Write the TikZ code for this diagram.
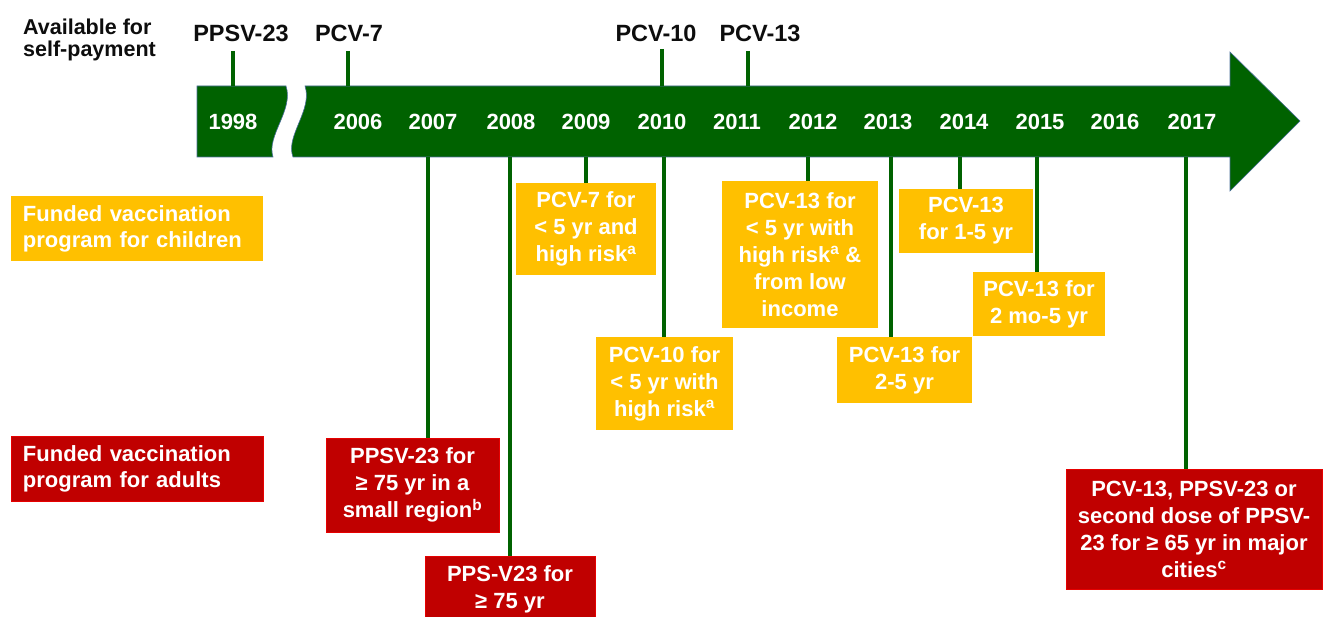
\documentclass[tikz,border=0pt]{standalone}
\usepackage{fontspec}
\setmainfont{Liberation Sans}
\definecolor{barg}{HTML}{006200}
\definecolor{yel}{HTML}{FFC000}
\definecolor{redc}{HTML}{C00000}
\definecolor{edgeb}{HTML}{4A6E9A}
\tikzset{
  conn/.style={draw=barg, line width=3.5pt},
  ybox/.style={fill=yel, text=white, font=\bfseries\fontsize{22}{27}\selectfont, align=center, inner sep=0pt},
  rbox/.style={fill=redc, draw=red!60!redc, line width=0.6pt, text=white, font=\bfseries\fontsize{22}{27}\selectfont, align=center, inner sep=0pt},
  catlab/.style={text=white, font=\bfseries\fontsize{22}{26}\selectfont, align=left, minimum width=252pt, minimum height=65pt, text width=228pt, inner xsep=12pt, inner ysep=0pt},
  yearlab/.style={text=white, font=\bfseries\fontsize{22}{26}\selectfont},
  toplab/.style={text=black!95, font=\bfseries\fontsize{23.5}{28}\selectfont},
}
\begin{document}
\begin{tikzpicture}[x=1pt,y=-1pt]
\useasboundingbox (0,0) rectangle (1328,617);
% timeline bar
\filldraw[fill=barg, draw=edgeb, line width=0.6pt] (197,86) -- (286,86) .. controls (294,110) and (266,136) .. (273,157) -- (197,157) -- cycle;
\filldraw[fill=barg, draw=edgeb, line width=0.6pt] (305,86) -- (1230,86) -- (1230,52) -- (1300,121) -- (1230,191) -- (1230,157) -- (293,157) .. controls (285,136) and (313,110) .. (305,86) -- cycle;
% years
\node[yearlab] (y1998) at (233,122) {1998};
\node[yearlab] (y2006) at (358,122) {2006};
\node[yearlab] (y2007) at (433,122) {2007};
\node[yearlab] (y2008) at (511,122) {2008};
\node[yearlab] (y2009) at (586,122) {2009};
\node[yearlab] (y2010) at (662,122) {2010};
\node[yearlab] (y2011) at (737,122) {2011};
\node[yearlab] (y2012) at (813,122) {2012};
\node[yearlab] (y2013) at (888,122) {2013};
\node[yearlab] (y2014) at (964,122) {2014};
\node[yearlab] (y2015) at (1040,122) {2015};
\node[yearlab] (y2016) at (1115,122) {2016};
\node[yearlab] (y2017) at (1192,122) {2017};
% top labels
\node[text=black!95, font=\bfseries\fontsize{21.5}{22}\selectfont, align=left, anchor=west, inner sep=0pt] (avail) at (23,40) {Available for\\self-payment};
\node[toplab] (tPPSV) at (241,33) {PPSV-23};
\node[toplab] (tPCV7) at (349,33) {PCV-7};
\node[toplab] (tPCV10) at (656,33) {PCV-10};
\node[toplab] (tPCV13) at (760,33) {PCV-13};
\coordinate (u1998) at (233,86);
\coordinate (u2006) at (348,86);
\coordinate (u2010) at (662,86);
\coordinate (u2011) at (748,86);
\draw[conn] (u1998 |- 0,51) -- (u1998);
\draw[conn] (u2006 |- 0,51) -- (u2006);
\draw[conn] (u2010 |- 0,49) -- (u2010);
\draw[conn] (u2011 |- 0,51) -- (u2011);
% category labels
\node[catlab, fill=yel] (catchild) at (137,228.5) {Funded vaccination\\program for children};
\node[catlab, fill=redc, draw=red!60!redc, line width=0.6pt] (catadult) at (137,469) {Funded vaccination\\program for adults};
% child boxes
\node[ybox, minimum width=140pt, minimum height=92pt] (b1) at (586,229) {PCV-7 for\\< 5 yr and\\high risk\textsuperscript{a}};
\node[ybox, minimum width=137pt, minimum height=93pt] (b2) at (664.5,383.5) {PCV-10 for\\< 5 yr with\\high risk\textsuperscript{a}};
\node[ybox, minimum width=156pt, minimum height=147pt] (b3) at (800,254.5) {PCV-13 for\\< 5 yr with\\high risk\textsuperscript{a} \&\\from low\\income};
\node[ybox, minimum width=134pt, minimum height=64pt] (b4) at (966,221) {PCV-13\\for 1-5 yr};
\node[ybox, minimum width=135pt, minimum height=66pt] (b5) at (904.5,370) {PCV-13 for\\2-5 yr};
\node[ybox, minimum width=132pt, minimum height=64pt] (b6) at (1039,304) {PCV-13 for\\2 mo-5 yr};
% adult boxes
\node[rbox, minimum width=173pt, minimum height=94pt] (b7) at (412.5,485) {PPSV-23 for\\≥ 75 yr in a\\small region\textsuperscript{b}};
\node[rbox, minimum width=170pt, minimum height=66pt, anchor=north] (b8) at (510,556) {PPS-V23 for\\≥ 75 yr};
\node[rbox, minimum width=256pt, minimum height=120pt] (b9) at (1194,529) {PCV-13, PPSV-23 or\\second dose of PPSV-\\23 for ≥ 65 yr in major\\cities\textsuperscript{c}};
% connectors from bar
\coordinate (d2007) at (428,157);
\coordinate (d2008) at (510,157);
\coordinate (d2009) at (586,157);
\coordinate (d2010) at (664,157);
\coordinate (d2012) at (808,157);
\coordinate (d2013) at (891,157);
\coordinate (d2014) at (960,157);
\coordinate (d2015) at (1037,157);
\coordinate (d2017) at (1186,157);
\draw[conn] (d2007) -- (b7.north -| d2007);
\draw[conn] (d2008) -- (b8.north -| d2008);
\draw[conn] (d2009) -- (b1.north -| d2009);
\draw[conn] (d2010) -- (b2.north -| d2010);
\draw[conn] (d2012) -- (b3.north -| d2012);
\draw[conn] (d2013) -- (b5.north -| d2013);
\draw[conn] (d2014) -- (b4.north -| d2014);
\draw[conn] (d2015) -- (b6.north -| d2015);
\draw[conn] (d2017) -- (b9.north -| d2017);
\end{tikzpicture}
\end{document}
